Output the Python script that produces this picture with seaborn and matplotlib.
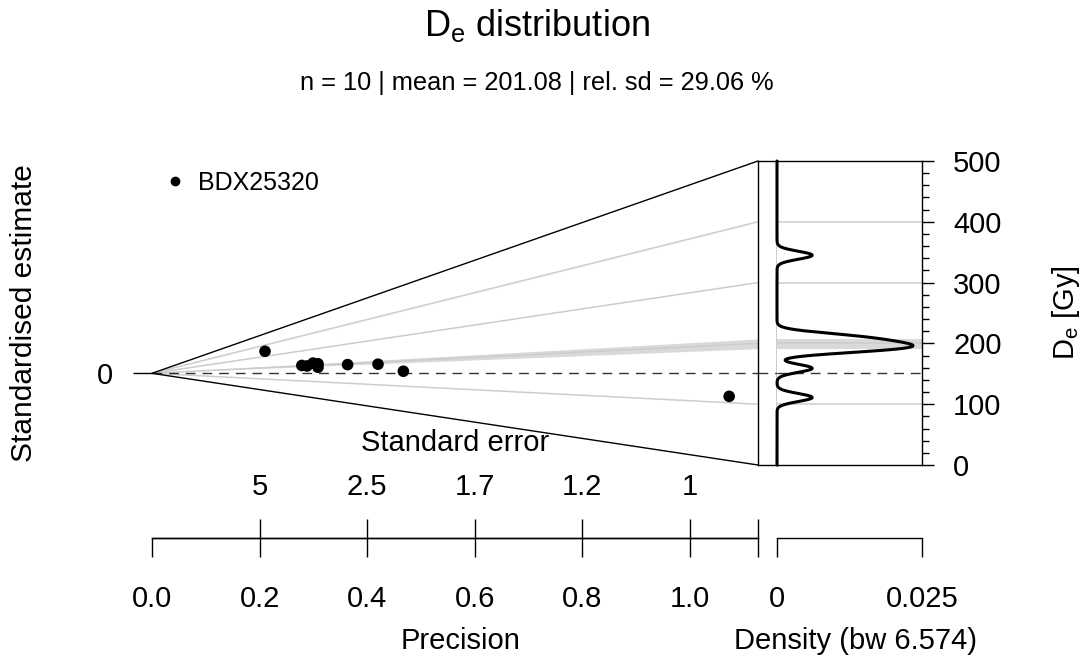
import matplotlib
matplotlib.use('Agg')
import matplotlib.pyplot as plt
from matplotlib.lines import Line2D
from matplotlib.ticker import MultipleLocator
import numpy as np
import pandas as pd
import seaborn as sns

# equivalent doses (Gy) and their standard errors
de = [345, 203, 198, 214, 208, 187, 195, 191, 159, 111]
de_err = [4.76, 3.59, 3.47, 3.34, 3.24, 3.24, 2.75, 2.38, 2.14, 0.932]
sample = "BDX25320"
bandwidth = 6.574
band_range = [190.5, 206.5]
de_ticks = [0, 100, 200, 300, 400, 500]
prec_ticks = [0.0, 0.2, 0.4, 0.6, 0.8, 1.0]
dens_ticks = [0, 0.025]
title = r"D$_\mathrm{e}$ distribution"
subtitle = "n = 10 | mean = 201.08 | rel. sd = 29.06 %"

W, H = 1084, 661
PT = 0.72  # points per pixel at 100 dpi

sns.set_theme(style="ticks", rc={"axes.edgecolor": "black", "xtick.color": "black",
                                 "ytick.color": "black", "text.color": "black",
                                 "axes.labelcolor": "black", "axes.linewidth": 1.0,
                                 "xtick.major.width": 1.0, "ytick.major.width": 1.0,
                                 "ytick.minor.width": 1.0})
plt.rcParams["font.family"] = ["Liberation Sans", "DejaVu Sans"]
plt.rcParams["mathtext.fontset"] = "custom"
plt.rcParams["mathtext.rm"] = "Liberation Sans"
plt.rcParams["mathtext.it"] = "Liberation Sans:italic"

df = pd.DataFrame({"De": de, "se": de_err})
df["precision"] = 1 / df["se"]
z0 = np.average(df["De"], weights=df["precision"] ** 2)   # weighted central value
df["std_est"] = (df["De"] - z0) * df["precision"]
pmax = df["precision"].max() * 1.05
de_lo, de_hi = de_ticks[0], de_ticks[-1]


def px(x0, y0, x1, y1):
    return [x0 / W, 1 - y1 / H, (x1 - x0) / W, (y1 - y0) / H]


fig = plt.figure(figsize=(W / 100, H / 100), dpi=100)
ax = fig.add_axes(px(152, 161, 758, 465))
ax_b = fig.add_axes(px(758, 161, 777, 465))
ax_d = fig.add_axes(px(777, 161, 922, 465))
off = (465 - 538) / (465 - 161)
grey = "#cccccc"
dash = (0, (7, 5))

# ---- radial part
ax.set_xlim(0, pmax)
ax.set_ylim((de_lo - z0) * pmax, (de_hi - z0) * pmax)
ax.fill([0, pmax, pmax], [0, (band_range[0] - z0) * pmax, (band_range[1] - z0) * pmax],
        color="#d9d9d9", lw=0, zorder=1)
for d in de_ticks[1:-1]:
    ax.plot([0, pmax], [0, (d - z0) * pmax], color=grey, lw=1.1, zorder=1)
for d in (de_lo, de_hi):
    ax.plot([0, pmax], [0, (d - z0) * pmax], color="black", lw=1.0, clip_on=False, zorder=3)
ax.plot([0, pmax], [0, 0], color="#333333", lw=1.0, ls=dash, zorder=2)
sns.scatterplot(data=df, x="precision", y="std_est", ax=ax, color="black", s=70,
                edgecolor="none", zorder=4, legend=False)
handle = Line2D([], [], marker="o", ls="", color="black", markersize=6)
ax.legend([handle], [sample], loc="center left", bbox_to_anchor=(0.0215, 0.928),
          frameon=False, fontsize=18, handlelength=0.8, handletextpad=0.5,
          borderpad=0, borderaxespad=0)

for s in ("left", "top", "right"):
    ax.spines[s].set_visible(False)
ax.spines["bottom"].set_position(("axes", off))
ax.spines["bottom"].set_bounds(0, pmax)
ax.set_xticks(prec_ticks + [pmax], [f"{t:.1f}" for t in prec_ticks] + [""])
ax.tick_params(axis="x", direction="out", length=19 * PT, pad=20, labelsize=21)
ax.set_yticks([0], ["0"])
ax.tick_params(axis="y", direction="out", length=19 * PT, pad=14.4, labelsize=21)
ax.set_xlabel("Precision", fontsize=21)
ax.xaxis.label.set_va("center")
ax.xaxis.set_label_coords(0.51, (465 - 641) / 304)
ax.set_ylabel("Standardised estimate", fontsize=21.5)
ax.yaxis.label.set_va("center")
ax.yaxis.set_label_coords((24 - 152) / 606, 0.5)

# standard error axis on the same line
ax2 = ax.twiny()
ax2.set_xlim(0, pmax)
for s in ("left", "bottom", "right"):
    ax2.spines[s].set_visible(False)
ax2.spines["top"].set_position(("axes", off))
ax2.spines["top"].set_bounds(0, pmax)
ax2.set_xticks(prec_ticks[1:] + [pmax], [f"{1 / t:.2g}" for t in prec_ticks[1:]] + [""])
ax2.tick_params(axis="x", direction="out", length=19 * PT, pad=13.3, labelsize=21)
ax2.set_xlabel("Standard error", fontsize=21)
ax2.xaxis.label.set_va("center")
ax2.xaxis.set_label_coords(0.5, (465 - 443) / 304)

# ---- rug box
ax_b.set_ylim(de_lo, de_hi)
ax_b.set_xticks([])
ax_b.set_yticks([])
ax_b.axhline(z0, color="#333333", lw=1.0, ls=dash)

# ---- KDE part
ax_d.axhspan(band_range[0], band_range[1], color="#d9d9d9", lw=0, zorder=1)
for d in de_ticks[1:-1]:
    ax_d.axhline(d, color=grey, lw=1.1, zorder=1)
ax_d.axhline(z0, color="#333333", lw=1.0, ls=dash, zorder=2)
sns.kdeplot(y=df["De"], ax=ax_d, bw_method=bandwidth / df["De"].std(), cut=40,
            clip=(de_lo, de_hi), gridsize=2000, color="black", lw=2.2, zorder=3)
ax_d.lines[-1].set_clip_on(False)
ax_d.axhline(de_lo, color="black", lw=1.0, clip_on=False)
ax_d.set_xlim(dens_ticks[0], dens_ticks[-1])
ax_d.set_ylim(de_lo, de_hi)
ax_d.spines["left"].set_visible(False)
ax_d.spines["bottom"].set_position(("axes", off))
ax_d.spines["bottom"].set_bounds(dens_ticks[0], dens_ticks[-1])
ax_d.set_xticks(dens_ticks, ["0", "0.025"])
ax_d.tick_params(axis="x", direction="out", length=19 * PT, pad=20, labelsize=21, top=False)
ax_d.set_yticks(de_ticks)
ax_d.yaxis.set_minor_locator(MultipleLocator(20))
ax_d.tick_params(axis="y", which="both", left=False, right=True, labelleft=False,
                 labelright=True, direction="out")
ax_d.tick_params(axis="y", which="major", length=12 * PT, pad=13.7, labelsize=21)
ax_d.tick_params(axis="y", which="minor", length=6.7 * PT)
ax_d.set_xlabel(f"Density (bw {bandwidth})", fontsize=21)
ax_d.xaxis.label.set_va("center")
ax_d.xaxis.set_label_coords((855 - 777) / 145, (465 - 641) / 304)
ax_d.yaxis.set_label_position("right")
ax_d.set_ylabel(r"D$_\mathrm{e}$ [Gy]", fontsize=21)
ax_d.yaxis.label.set_va("center")
ax_d.yaxis.set_label_coords((1066 - 777) / 145, 0.5)

fig.text(536.5 / W, 1 - 25 / H, title, ha="center", va="center", fontsize=26)
fig.text(536.5 / W, 1 - 83 / H, subtitle, ha="center", va="center", fontsize=18.3)

fig.savefig("out.png", dpi=100)
